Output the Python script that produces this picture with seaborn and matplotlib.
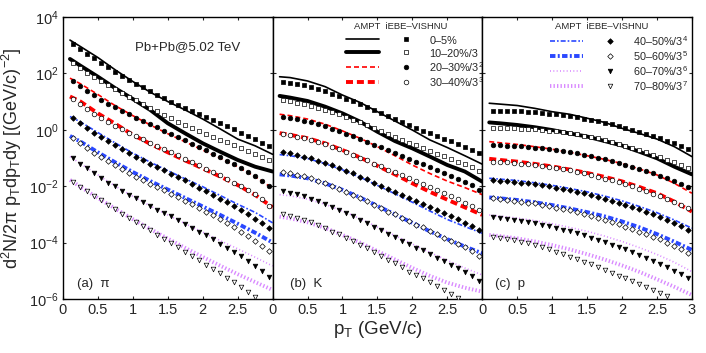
import numpy as np
import seaborn as sns
import matplotlib.pyplot as plt
from matplotlib.lines import Line2D
from matplotlib.legend_handler import HandlerTuple
from matplotlib.ticker import FixedLocator, NullLocator

nan = np.nan

# pT grids (GeV/c)
pt_vishnu = [0.15, 0.25, 0.35, 0.45, 0.55, 0.65, 0.75, 0.85, 0.95, 1.05,
             1.15, 1.25, 1.35, 1.45, 1.55, 1.65, 1.75, 1.85, 1.95, 2.05,
             2.15, 2.25, 2.35, 2.45, 2.55, 2.65, 2.75, 2.85, 2.95]
pt_ampt = [0.1, 0.25, 0.5, 0.75, 1.0, 1.25, 1.5, 1.75, 2.0, 2.25, 2.5, 2.75, 3.0]

centralities = ['0–5%', '10–20%/3', '20–30%/3$^2$', '30–40%/3$^3$',
                '40–50%/3$^4$', '50–60%/3$^5$', '60–70%/3$^6$', '70–80%/3$^7$']
particles = ['(a)  π', '(b)  K', '(c)  p']

# log10 of d2N/(2pi pT dpT dy), iEBE-VISHNU points
pion_vishnu = [
    [3.03, 2.87, 2.70, 2.53, 2.37, 2.22, 2.06, 1.92, 1.78, 1.64, 1.51, 1.38, 1.25, 1.12, 1.00,
     0.88, 0.76, 0.65, 0.55, 0.44, 0.34, 0.23, 0.12, 0.02, -0.10, -0.22, -0.34, -0.46, -0.57],
    [2.36, 2.19, 2.03, 1.88, 1.73, 1.58, 1.44, 1.30, 1.17, 1.04, 0.91, 0.78, 0.65, 0.52, 0.40,
     0.28, 0.17, 0.06, -0.05, -0.15, -0.25, -0.35, -0.45, -0.55, -0.65, -0.75, -0.85, -0.95, -1.06],
    [1.73, 1.55, 1.39, 1.22, 1.07, 0.93, 0.80, 0.67, 0.55, 0.43, 0.31, 0.19, 0.09, -0.03, -0.15,
     -0.26, -0.37, -0.49, -0.61, -0.73, -0.85, -0.96, -1.09, -1.22, -1.35, -1.49, -1.64, -1.80, -1.98],
    [1.08, 0.90, 0.74, 0.57, 0.42, 0.28, 0.15, 0.02, -0.10, -0.22, -0.34, -0.46, -0.56, -0.68, -0.80,
     -0.91, -1.02, -1.14, -1.26, -1.38, -1.50, -1.61, -1.74, -1.87, -2.00, -2.14, -2.29, -2.46, -2.70],
    [0.41, 0.23, 0.06, -0.10, -0.26, -0.41, -0.55, -0.69, -0.82, -0.95, -1.08, -1.20, -1.32, -1.44, -1.56,
     -1.67, -1.79, -1.92, -2.05, -2.18, -2.31, -2.44, -2.57, -2.71, -2.86, -3.00, -3.15, -3.30, -3.47],
    [-0.30, -0.48, -0.65, -0.81, -0.96, -1.12, -1.26, -1.40, -1.53, -1.66, -1.79, -1.91, -2.03, -2.15, -2.26,
     -2.38, -2.51, -2.64, -2.77, -2.90, -3.03, -3.18, -3.32, -3.46, -3.61, -3.77, -3.93, -4.11, -4.30],
    [-1.01, -1.20, -1.37, -1.54, -1.70, -1.87, -2.01, -2.16, -2.30, -2.43, -2.57, -2.70, -2.83, -2.95, -3.07,
     -3.20, -3.33, -3.47, -3.61, -3.74, -3.88, -4.04, -4.18, -4.33, -4.49, -4.65, -4.82, -5.01, -5.21],
    [-1.86, -2.02, -2.18, -2.34, -2.50, -2.66, -2.82, -2.97, -3.12, -3.27, -3.42, -3.57, -3.72, -3.87, -4.02,
     -4.17, -4.32, -4.47, -4.62, -4.78, -4.93, -5.09, -5.25, -5.41, -5.57, -5.74, -5.92, nan, nan],
]
kaon_vishnu = [
    [1.71, 1.66, 1.61, 1.57, 1.51, 1.44, 1.36, 1.28, 1.20, 1.10, 1.01, 0.91, 0.81, 0.70, 0.60,
     0.49, 0.38, 0.28, 0.17, 0.06, -0.03, -0.13, -0.22, -0.31, -0.41, -0.50, -0.60, -0.70, -0.81],
    [1.06, 1.01, 0.96, 0.91, 0.86, 0.78, 0.71, 0.63, 0.55, 0.45, 0.36, 0.26, 0.17, 0.06, -0.03,
     -0.14, -0.24, -0.35, -0.46, -0.55, -0.66, -0.75, -0.85, -0.94, -1.04, -1.13, -1.22, -1.33, -1.45],
    [0.44, 0.41, 0.37, 0.32, 0.26, 0.19, 0.12, 0.04, -0.04, -0.14, -0.23, -0.33, -0.42, -0.53, -0.62,
     -0.73, -0.82, -0.93, -1.02, -1.13, -1.22, -1.33, -1.43, -1.53, -1.64, -1.74, -1.85, -1.97, -2.12],
    [-0.16, -0.20, -0.24, -0.30, -0.36, -0.44, -0.51, -0.60, -0.68, -0.79, -0.88, -0.99, -1.08, -1.20, -1.29,
     -1.41, -1.50, -1.62, -1.71, -1.83, -1.92, -2.04, -2.14, -2.25, -2.36, -2.47, -2.58, -2.71, -2.86],
    [-0.80, -0.84, -0.89, -0.95, -1.01, -1.10, -1.17, -1.26, -1.35, -1.46, -1.55, -1.67, -1.76, -1.88, -1.98,
     -2.10, -2.19, -2.32, -2.41, -2.53, -2.62, -2.74, -2.84, -2.96, -3.07, -3.18, -3.29, -3.42, -3.57],
    [-1.48, -1.53, -1.59, -1.65, -1.72, -1.82, -1.89, -1.99, -2.09, -2.21, -2.31, -2.43, -2.53, -2.66, -2.77,
     -2.90, -2.99, -3.13, -3.23, -3.36, -3.45, -3.58, -3.69, -3.82, -3.94, -4.05, -4.17, -4.31, -4.47],
    [-2.17, -2.23, -2.29, -2.36, -2.44, -2.54, -2.62, -2.73, -2.83, -2.96, -3.07, -3.19, -3.30, -3.44, -3.55,
     -3.69, -3.79, -3.93, -4.04, -4.18, -4.27, -4.41, -4.53, -4.66, -4.79, -4.91, -5.03, -5.18, -5.35],
    [-3.00, -3.04, -3.12, -3.20, -3.28, -3.38, -3.49, -3.61, -3.71, -3.83, -3.94, -4.09, -4.20, -4.35, -4.46,
     -4.62, -4.74, -4.88, -5.03, -5.15, -5.27, -5.39, -5.53, -5.68, -5.83, -5.98, nan, nan, nan],
]
proton_vishnu = [
    [0.68, 0.68, 0.68, 0.67, 0.65, 0.64, 0.62, 0.60, 0.57, 0.55, 0.51, 0.48, 0.44, 0.39, 0.35,
     0.30, 0.25, 0.19, 0.13, 0.08, 0.00, -0.07, -0.14, -0.22, -0.30, -0.39, -0.48, -0.57, -0.68],
    [0.05, 0.05, 0.05, 0.05, 0.04, 0.03, 0.02, -0.01, -0.03, -0.05, -0.09, -0.13, -0.16, -0.21, -0.26,
     -0.30, -0.36, -0.42, -0.49, -0.56, -0.63, -0.72, -0.80, -0.88, -0.96, -1.06, -1.15, -1.26, -1.37],
    [-0.54, -0.55, -0.56, -0.57, -0.59, -0.61, -0.63, -0.66, -0.68, -0.72, -0.75, -0.79, -0.83, -0.88, -0.93,
     -0.99, -1.05, -1.11, -1.17, -1.24, -1.31, -1.38, -1.46, -1.54, -1.63, -1.72, -1.82, -1.92, -2.04],
    [-1.13, -1.15, -1.16, -1.18, -1.20, -1.23, -1.25, -1.29, -1.31, -1.36, -1.40, -1.44, -1.49, -1.54, -1.60,
     -1.66, -1.73, -1.79, -1.86, -1.93, -2.01, -2.09, -2.17, -2.26, -2.35, -2.45, -2.55, -2.66, -2.79],
    [-1.78, -1.80, -1.82, -1.84, -1.87, -1.90, -1.92, -1.97, -1.99, -2.05, -2.09, -2.13, -2.19, -2.24, -2.31,
     -2.37, -2.44, -2.51, -2.58, -2.66, -2.74, -2.82, -2.91, -3.00, -3.09, -3.20, -3.30, -3.42, -3.55],
    [-2.43, -2.46, -2.48, -2.51, -2.55, -2.58, -2.61, -2.67, -2.69, -2.76, -2.80, -2.85, -2.92, -2.97, -3.05,
     -3.12, -3.19, -3.27, -3.35, -3.43, -3.52, -3.61, -3.70, -3.80, -3.89, -4.01, -4.12, -4.24, -4.38],
    [-3.08, -3.12, -3.15, -3.19, -3.23, -3.27, -3.31, -3.38, -3.41, -3.49, -3.54, -3.59, -3.67, -3.73, -3.82,
     -3.90, -3.98, -4.07, -4.15, -4.24, -4.34, -4.44, -4.54, -4.65, -4.75, -4.87, -4.99, -5.12, -5.27],
    [-3.79, -3.83, -3.87, -3.91, -3.97, -4.03, -4.09, -4.17, -4.24, -4.32, -4.42, -4.50, -4.59, -4.68, -4.77,
     -4.88, -4.97, -5.07, -5.17, -5.27, -5.36, -5.46, -5.56, -5.68, -5.80, -5.89, nan, nan, nan],
]

# log10 spectra, AMPT curves
pion_ampt = [
    [3.18, 2.95, 2.56, 2.12, 1.71, 1.33, 1.00, 0.70, 0.38, 0.03, -0.33, -0.57, -0.87],
    [2.51, 2.27, 1.88, 1.47, 1.09, 0.70, 0.23, -0.13, -0.48, -0.78, -1.07, -1.31, -1.48],
    [1.83, 1.63, 1.25, 0.85, 0.50, 0.17, -0.14, -0.43, -0.72, -1.01, -1.31, -1.66, -2.08],
    [1.18, 1.00, 0.58, 0.21, -0.18, -0.50, -0.80, -1.09, -1.37, -1.66, -1.96, -2.31, -2.75],
    [0.47, 0.28, -0.10, -0.47, -0.83, -1.15, -1.45, -1.74, -2.02, -2.33, -2.64, -2.93, -3.30],
    [-0.22, -0.42, -0.80, -1.16, -1.50, -1.82, -2.12, -2.42, -2.72, -3.02, -3.33, -3.65, -4.00],
    [-0.95, -1.20, -1.60, -2.00, -2.36, -2.70, -3.02, -3.33, -3.63, -3.93, -4.22, -4.52, -4.83],
    [-1.78, -2.02, -2.42, -2.80, -3.17, -3.52, -3.86, -4.19, -4.51, -4.82, -5.12, -5.40, -5.68],
]
kaon_ampt = [
    [1.88, 1.85, 1.73, 1.53, 1.23, 0.97, 0.64, 0.31, -0.01, -0.36, -0.63, -0.92, -1.22],
    [1.20, 1.14, 1.02, 0.82, 0.58, 0.29, -0.07, -0.40, -0.66, -0.95, -1.25, -1.48, -1.84],
    [0.55, 0.50, 0.38, 0.20, -0.04, -0.30, -0.60, -0.92, -1.25, -1.55, -1.82, -2.05, -2.30],
    [-0.12, -0.18, -0.30, -0.48, -0.72, -0.98, -1.28, -1.58, -1.90, -2.20, -2.48, -2.75, -3.02],
    [-0.88, -0.92, -1.02, -1.20, -1.42, -1.68, -1.97, -2.27, -2.57, -2.88, -3.18, -3.43, -3.67],
    [-1.58, -1.62, -1.72, -1.90, -2.13, -2.40, -2.70, -3.00, -3.30, -3.60, -3.88, -4.14, -4.38],
    [-2.30, -2.34, -2.46, -2.64, -2.88, -3.15, -3.45, -3.75, -4.05, -4.35, -4.63, -4.90, -5.15],
    [-3.08, -3.14, -3.28, -3.48, -3.73, -4.00, -4.30, -4.60, -4.90, -5.18, -5.42, -5.60, -5.74],
]
proton_ampt = [
    [0.94, 0.91, 0.86, 0.76, 0.64, 0.55, 0.41, 0.26, 0.05, -0.13, -0.33, -0.60, -0.95],
    [0.26, 0.23, 0.17, 0.09, -0.01, -0.13, -0.24, -0.40, -0.56, -0.78, -1.01, -1.31, -1.58],
    [-0.42, -0.46, -0.52, -0.60, -0.69, -0.80, -0.92, -1.05, -1.20, -1.39, -1.60, -1.90, -2.25],
    [-1.03, -1.07, -1.13, -1.21, -1.30, -1.41, -1.53, -1.67, -1.83, -2.03, -2.25, -2.55, -2.90],
    [-1.72, -1.75, -1.80, -1.88, -1.97, -2.08, -2.20, -2.35, -2.52, -2.72, -2.94, -3.20, -3.49],
    [-2.40, -2.43, -2.49, -2.57, -2.67, -2.79, -2.92, -3.07, -3.25, -3.46, -3.70, -3.97, -4.26],
    [-3.02, -3.06, -3.13, -3.22, -3.33, -3.46, -3.60, -3.77, -3.96, -4.18, -4.42, -4.70, -5.03],
    [-3.73, -3.77, -3.85, -3.96, -4.09, -4.24, -4.41, -4.60, -4.81, -5.04, -5.30, -5.57, -5.86],
]

# styles per centrality class
blue = '#2a48ff'
violet = '#d98aff'
line_colors = ['black', 'black', 'red', 'red', blue, blue, violet, violet]
line_widths = [1.2, 2.8, 1.2, 2.8, 1.2, 2.8, 1.2, 2.8]
line_styles = ['-', '-', (0, (3, 1.8)), (0, (1.8, 1.0)),
               (0, (3, 1.2, 1, 1.2)), (0, (1.4, 0.6, 0.5, 0.6)),
               (0, (0.6, 1.4)), (0, (0.35, 0.55))]
markers = ['s', 's', 'o', 'o', 'D', 'D', 'v', 'v']
marker_sizes = [8, 8, 11, 11, 8, 8, 11, 11]
filled = [True, False, True, False, True, False, True, False]

sns.set_theme(style='ticks')
plt.rcParams['font.family'] = ['Liberation Sans', 'DejaVu Sans']
plt.rcParams.update({
    'mathtext.fontset': 'custom',
    'mathtext.rm': 'Liberation Sans',
    'mathtext.it': 'Liberation Sans:italic',
    'mathtext.bf': 'Liberation Sans:bold',
    'mathtext.default': 'regular',
    'axes.linewidth': 1.0,
    'axes.edgecolor': 'black',
})

fig, axes = plt.subplots(1, 3, figsize=(7.06, 3.53), dpi=100, sharey=True)
fig.subplots_adjust(left=0.0892, right=0.980, bottom=0.153, top=0.952, wspace=0)

vishnu_sets = [pion_vishnu, kaon_vishnu, proton_vishnu]
ampt_sets = [pion_ampt, kaon_ampt, proton_ampt]

for k, ax in enumerate(axes):
    ax.set_yscale('log')
    for i in range(8):
        yl = 10 ** np.array(ampt_sets[k][i])
        sns.lineplot(x=pt_ampt, y=yl, ax=ax, color=line_colors[i],
                     lw=line_widths[i], linestyle=line_styles[i],
                     errorbar=None, sort=False, legend=False)
        ym = 10 ** np.array(vishnu_sets[k][i])
        sns.scatterplot(x=pt_vishnu, y=ym, ax=ax, marker=markers[i],
                        s=marker_sizes[i],
                        facecolor='black' if filled[i] else 'white',
                        edgecolor='black', linewidth=0.5, legend=False,
                        zorder=3)
    ax.set_xlim(0, 3)
    ax.set_ylim(1e-6, 1e4)
    ax.yaxis.set_major_locator(FixedLocator([1e-6, 1e-4, 1e-2, 1, 1e2, 1e4]))
    ax.yaxis.set_minor_locator(NullLocator())
    ax.set_xticks([0, 0.5, 1, 1.5, 2, 2.5, 3])
    if k < 2:
        ax.set_xticklabels(['0', '0.5', '1', '1.5', '2', '2.5', ''])
    else:
        ax.set_xticklabels(['0', '0.5', '1', '1.5', '2', '2.5', '3'])
    ax.tick_params(which='both', direction='in', top=True, right=True,
                   length=2.5, width=0.8, labelsize=10.5, pad=3)
    ax.set_xlabel('')
    ax.set_ylabel('')

axes[0].set_ylabel('d$^2$N/2π p$_T$dp$_T$dy [(GeV/c)$^{-2}$]', fontsize=13)
axes[0].yaxis.set_label_coords(-0.185, 0.5)
axes[1].set_xlabel('p$_T$ (GeV/c)', fontsize=13.5, labelpad=1)

label_x = [0.067, 0.083, 0.06]
for k, ax in enumerate(axes):
    ax.text(label_x[k], 0.053, particles[k], transform=ax.transAxes,
            fontsize=9.5, va='center', ha='left')
axes[0].text(0.343, 0.894, 'Pb+Pb@5.02 TeV', transform=axes[0].transAxes,
             fontsize=9.5, va='center', ha='left')


def make_handles(idx):
    hs = []
    for i in idx:
        ln = Line2D([], [], color=line_colors[i], lw=line_widths[i],
                    linestyle=line_styles[i])
        mk = Line2D([], [], ls='none', marker=markers[i],
                    markersize=np.sqrt(marker_sizes[i]),
                    markerfacecolor='black' if filled[i] else 'white',
                    markeredgecolor='black', markeredgewidth=0.5)
        hs.append((ln, mk))
    return hs


legend_specs = [(axes[1], [0, 1, 2, 3], 0.35, 0.388),
                (axes[2], [4, 5, 6, 7], 0.323, 0.347)]
for ax, idx, lx, hx in legend_specs:
    ax.legend(make_handles(idx), [centralities[i] for i in idx],
              handler_map={tuple: HandlerTuple(ndivide=None, pad=0.96)},
              loc='upper left', bbox_to_anchor=(lx, 0.94), frameon=False,
              fontsize=7.8, handlelength=7.1, handleheight=1.4,
              labelspacing=0.05, handletextpad=0.6, borderpad=0,
              borderaxespad=0)
    ax.text(hx, 0.966, 'AMPT  iEBE–VISHNU', transform=ax.transAxes,
            fontsize=6.8, va='center', ha='left')

fig.savefig('out.png', dpi=100)
plt.close(fig)
